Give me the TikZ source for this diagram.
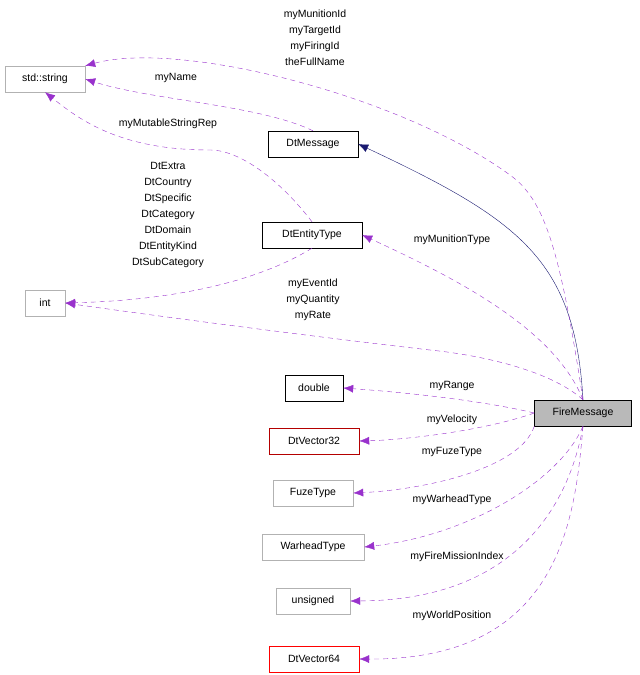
\documentclass[tikz,border=0pt]{standalone}
\usepackage{fontspec}
\setmainfont{Liberation Sans}
\usetikzlibrary{arrows.meta}
\definecolor{dpurple}{RGB}{153,50,204}
\definecolor{navyc}{RGB}{25,25,112}
\definecolor{dred}{RGB}{180,0,0}
\begin{document}
\begin{tikzpicture}[x=1pt,y=-1pt,
  box/.style={draw=#1,fill=white,minimum height=26pt,inner xsep=2pt,font=\fontsize{10.5}{12}\selectfont},
  dep/.style={draw=dpurple,dash pattern=on 5pt off 4pt,-{Latex[length=10pt,width=8pt,fill=dpurple]}},
  inh/.style={draw=navyc,-{Latex[length=10pt,width=8pt]}},
  lab/.style={font=\fontsize{10.5}{16}\selectfont,align=center,inner sep=0pt}]
\useasboundingbox (0,0) rectangle (640,675);
\node[box=gray!60,minimum width=80pt] (str) at (45,79) {std::string};
\node[box=black,minimum width=90pt] (dtm) at (313,144) {DtMessage};
\node[box=black,minimum width=100pt] (det) at (312,235) {DtEntityType};
\node[box=gray!60,minimum width=40pt] (int) at (45,303) {int};
\node[box=black,minimum width=58pt] (dbl) at (314,388) {double};
\node[box=dred,minimum width=90pt] (v32) at (314,441) {DtVector32};
\node[box=gray!60,minimum width=80pt] (fuze) at (313,493) {FuzeType};
\node[box=gray!60,minimum width=102pt] (war) at (313,547) {WarheadType};
\node[box=gray!60,minimum width=74pt] (uns) at (313,601) {unsigned};
\node[box=red,minimum width=90pt] (v64) at (314,659) {DtVector64};
\node[box=black,fill=gray!55,minimum width=97pt] (fm) at (583,413) {FireMessage};

\draw[inh] (fm.north) .. controls (575,260) and (520,220) .. (dtm.east);
\draw[dep] (fm.north) .. controls (560,250) and (545,200) .. (510,175) .. controls (400,95) and (180,40) .. (str.north east);
\draw[dep] (dtm.north) .. controls (260,105) and (150,100) .. (str.east);
\draw[dep] (det.north) .. controls (280,180) and (240,150) .. (210,150) .. controls (120,150) and (80,120) .. (str.south);
\draw[dep] (det.south) .. controls (260,280) and (180,300) .. (int.east);
\draw[dep] (fm.north) .. controls (555,330) and (460,280) .. (det.east);
\draw[dep] (fm.north) .. controls (550,370) and (480,355) .. (430,350) .. controls (300,335) and (150,315) .. (int.east);
\draw[dep] (fm.west) .. controls (480,400) and (400,392) .. (dbl.east);
\draw[dep] (fm.west) .. controls (480,432) and (400,440) .. (v32.east);
\draw[dep] (fm.south west) .. controls (520,470) and (420,490) .. (fuze.east);
\draw[dep] (fm.south) .. controls (560,480) and (470,535) .. (war.east);
\draw[dep] (fm.south) .. controls (570,500) and (520,600) .. (uns.east);
\draw[dep] (fm.south) .. controls (575,520) and (560,660) .. (v64.east);

\node[lab] at (315,38) {myMunitionId\\myTargetId\\myFiringId\\theFullName};
\node[lab] at (176,78) {myName};
\node[lab] at (168,124) {myMutableStringRep};
\node[lab] at (168,215) {DtExtra\\DtCountry\\DtSpecific\\DtCategory\\DtDomain\\DtEntityKind\\DtSubCategory};
\node[lab] at (452,240) {myMunitionType};
\node[lab] at (313,300) {myEventId\\myQuantity\\myRate};
\node[lab] at (452,386) {myRange};
\node[lab] at (452,420) {myVelocity};
\node[lab] at (452,452) {myFuzeType};
\node[lab] at (452,500) {myWarheadType};
\node[lab] at (457,557) {myFireMissionIndex};
\node[lab] at (452,616) {myWorldPosition};
\end{tikzpicture}
\end{document}
